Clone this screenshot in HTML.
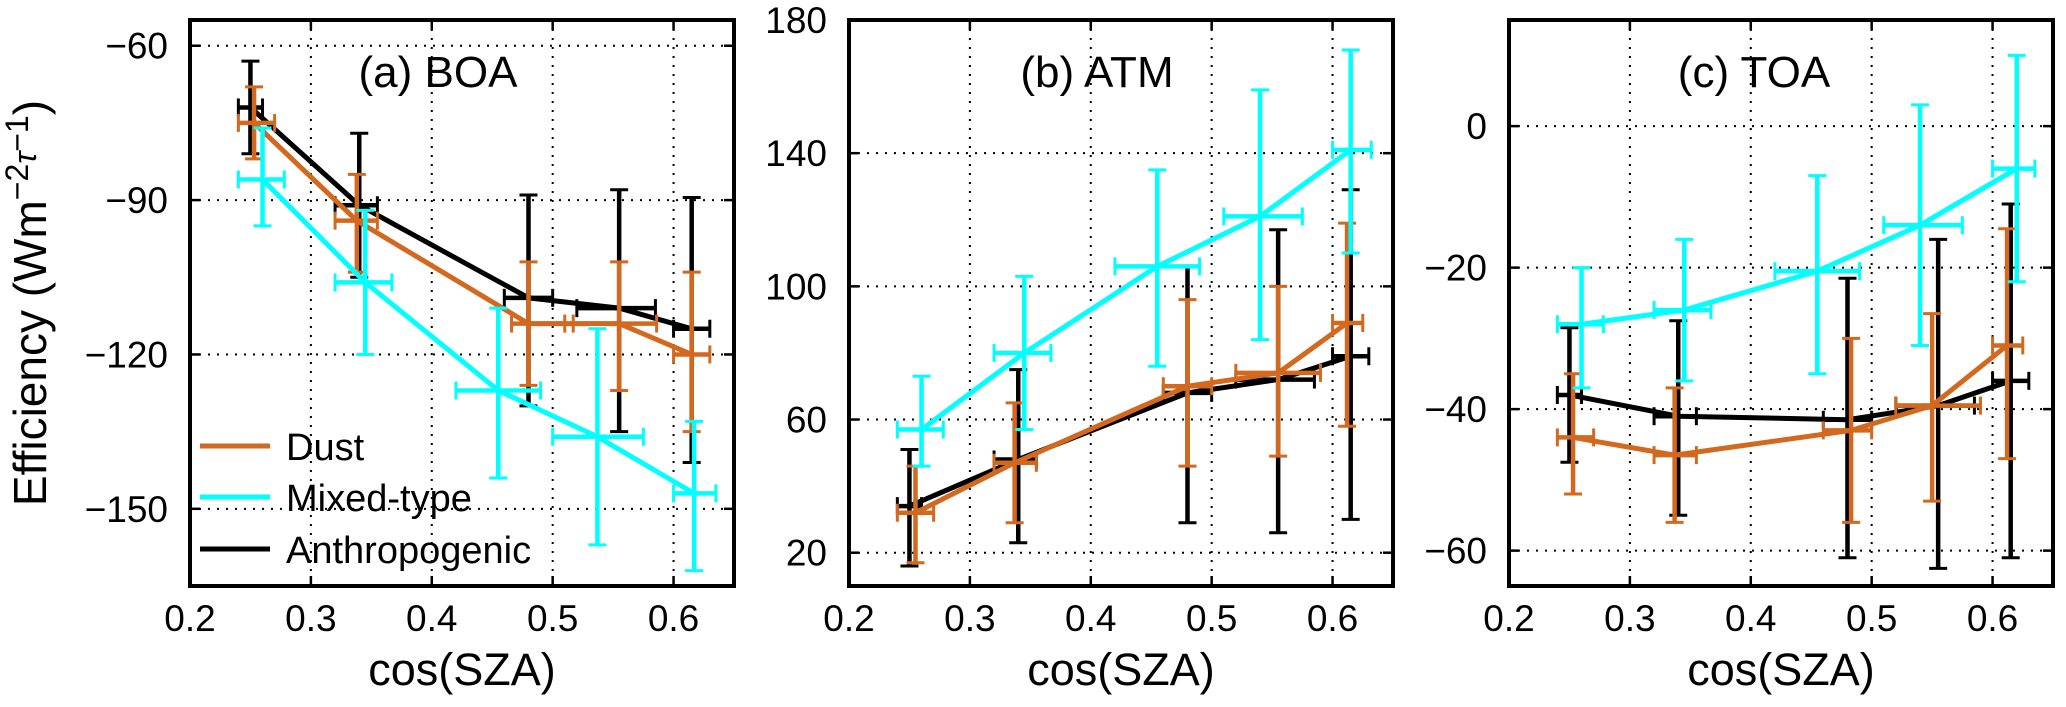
<!DOCTYPE html>
<html><head><meta charset="utf-8"><style>
html,body{margin:0;padding:0;background:#fff;}
svg{display:block;font-family:"Liberation Sans",sans-serif;}
</style></head><body>
<svg id="chart" width="2066" height="707" viewBox="0 0 2066 707" xmlns="http://www.w3.org/2000/svg"></svg>
<script>
// ---- data ----
const seriesNames = ["Dust","Mixed-type","Anthropogenic"];
const seriesColors = ["#d2691e","#00ffff","#000000"];
// Panel A (BOA)
const aDustX=[0.253,0.338,0.48,0.555,0.615], aDustY=[-75,-94,-114,-114,-120];
const aDustLo=[-82,-104,-126,-127,-135], aDustHi=[-68,-85,-102,-102,-104];
const aDustXLo=[0.24,0.32,0.466,0.517,0.6], aDustXHi=[0.27,0.355,0.51,0.586,0.63];
const aMixX=[0.26,0.345,0.455,0.537,0.617], aMixY=[-86,-106,-127,-136,-147];
const aMixLo=[-95,-120,-144,-157,-162], aMixHi=[-76,-92,-111,-115,-133];
const aMixXLo=[0.24,0.32,0.42,0.5,0.6], aMixXHi=[0.278,0.367,0.49,0.575,0.635];
const aAntX=[0.25,0.34,0.48,0.555,0.615], aAntY=[-72,-91,-109,-111,-115];
const aAntLo=[-81,-105,-130,-135,-141], aAntHi=[-63,-77,-89,-88,-89.5];
const aAntXLo=[0.24,0.32,0.46,0.52,0.6], aAntXHi=[0.26,0.355,0.5,0.585,0.63];
// Panel B (ATM)
const bDustX=[0.255,0.337,0.48,0.555,0.612], bDustY=[32,47,70,74,89];
const bDustLo=[17,29,46,49,58], bDustHi=[46,65,96,100,119];
const bDustXLo=[0.24,0.32,0.46,0.52,0.6], bDustXHi=[0.27,0.355,0.5,0.59,0.625];
const bMixX=[0.26,0.345,0.455,0.54,0.615], bMixY=[57,80,106,121,141];
const bMixLo=[46,57,76,84,110], bMixHi=[73,103,135,159,171];
const bMixXLo=[0.24,0.32,0.42,0.51,0.6], bMixXHi=[0.278,0.367,0.49,0.575,0.632];
const bAntX=[0.25,0.34,0.48,0.555,0.615], bAntY=[34,48,68,72,79];
const bAntLo=[16,23,29,26,30], bAntHi=[51,75,106,117,129];
const bAntXLo=[0.24,0.32,0.46,0.52,0.6], bAntXHi=[0.26,0.355,0.5,0.585,0.63];
// Panel C (TOA)
const cDustX=[0.253,0.337,0.483,0.55,0.612], cDustY=[-44,-46.5,-43,-39.5,-31];
const cDustLo=[-52,-56,-56,-53,-47], cDustHi=[-35,-37,-30,-26.5,-14.5];
const cDustXLo=[0.24,0.32,0.46,0.52,0.6], cDustXHi=[0.27,0.355,0.5,0.59,0.625];
const cMixX=[0.26,0.345,0.455,0.54,0.62], cMixY=[-28,-26,-20.5,-14,-6];
const cMixLo=[-37,-36,-35,-31,-22], cMixHi=[-20,-16,-7,3,10];
const cMixXLo=[0.24,0.32,0.42,0.51,0.6], cMixXHi=[0.278,0.367,0.49,0.575,0.635];
const cAntX=[0.25,0.34,0.48,0.555,0.615], cAntY=[-38,-41,-41.5,-39.5,-36];
const cAntLo=[-47.5,-55,-61,-62.5,-61], cAntHi=[-28.5,-27.5,-21.5,-16,-11];
const cAntXLo=[0.24,0.32,0.46,0.52,0.6], cAntXHi=[0.26,0.355,0.5,0.585,0.63];
const xTicks=[0.2,0.3,0.4,0.5,0.6];
const aYTicks=[-60,-90,-120,-150];
const bYTicks=[20,60,100,140,180];
const cYTicks=[-60,-40,-20,0];
const panelTitles=["(a) BOA","(b) ATM","(c) TOA"];

const NS="http://www.w3.org/2000/svg";
const svg=document.getElementById('chart');
function mk(tag,attrs,parent){const e=document.createElementNS(NS,tag);for(const k in attrs)e.setAttribute(k,attrs[k]);(parent||svg).appendChild(e);return e;}

const panels=[
 {left:190,xmin:0.2,xmax:0.65,ymin:-165,ymax:-55,yt:aYTicks,tx:438,
  s:[[aDustX,aDustY,aDustLo,aDustHi,aDustXLo,aDustXHi],[aMixX,aMixY,aMixLo,aMixHi,aMixXLo,aMixXHi],[aAntX,aAntY,aAntLo,aAntHi,aAntXLo,aAntXHi]],name:'boa'},
 {left:849,xmin:0.2,xmax:0.65,ymin:10,ymax:180,yt:bYTicks,tx:1097,
  s:[[bDustX,bDustY,bDustLo,bDustHi,bDustXLo,bDustXHi],[bMixX,bMixY,bMixLo,bMixHi,bMixXLo,bMixXHi],[bAntX,bAntY,bAntLo,bAntHi,bAntXLo,bAntXHi]],name:'atm'},
 {left:1509,xmin:0.2,xmax:0.65,ymin:-65,ymax:15,yt:cYTicks,tx:1754,
  s:[[cDustX,cDustY,cDustLo,cDustHi,cDustXLo,cDustXHi],[cMixX,cMixY,cMixLo,cMixHi,cMixXLo,cMixXHi],[cAntX,cAntY,cAntLo,cAntHi,cAntXLo,cAntXHi]],name:'toa'}
];
const TOP=20,BOT=586,W=544;
const order=[2,0,1];
panels.forEach((p,pi)=>{
  const g=mk('g',{});
  
  
  const X=v=>p.left+(v-p.xmin)/(p.xmax-p.xmin)*W;
  const Y=v=>BOT-(v-p.ymin)/(p.ymax-p.ymin)*(BOT-TOP);
  const R=p.left+W;
  xTicks.forEach(t=>{
    const l=mk('line',{x1:X(t),x2:X(t),y1:TOP,y2:BOT,stroke:'#000','stroke-width':2,'stroke-dasharray':'2,7'},g);
    
    
    mk('line',{x1:X(t),x2:X(t),y1:BOT,y2:BOT-10,stroke:'#000','stroke-width':2.5},g);
    mk('line',{x1:X(t),x2:X(t),y1:TOP,y2:TOP+10,stroke:'#000','stroke-width':2.5},g);
    const tx=mk('text',{x:X(t),y:631,'font-size':37,'text-anchor':'middle'},g);
    tx.textContent=t.toFixed(1);
    
    
  });
  p.yt.forEach(t=>{
    const l=mk('line',{x1:p.left,x2:R,y1:Y(t),y2:Y(t),stroke:'#000','stroke-width':2,'stroke-dasharray':'2,7'},g);
    
    
    mk('line',{x1:p.left,x2:p.left+10,y1:Y(t),y2:Y(t),stroke:'#000','stroke-width':2.5},g);
    mk('line',{x1:R,x2:R-10,y1:Y(t),y2:Y(t),stroke:'#000','stroke-width':2.5},g);
    const tx=mk('text',{x:p.left-22,y:Y(t)+13,'font-size':37,'text-anchor':'end'},g);
    tx.textContent=(t<0?'\u2212'+(-t):''+t);
    
    
  });
  order.forEach(si=>{
    const [xs,ys,lo,hi,xlo,xhi]=p.s[si];const c=seriesColors[si];
    const sg=mk('g',{},g);
    
    
    xs.forEach((x,i)=>{
      mk('line',{x1:X(x),x2:X(x),y1:Y(lo[i]),y2:Y(hi[i]),stroke:c,'stroke-width':4.5},sg);
      mk('line',{x1:X(x)-9,x2:X(x)+9,y1:Y(lo[i]),y2:Y(lo[i]),stroke:c,'stroke-width':3},sg);
      mk('line',{x1:X(x)-9,x2:X(x)+9,y1:Y(hi[i]),y2:Y(hi[i]),stroke:c,'stroke-width':3},sg);
      mk('line',{x1:X(xlo[i]),x2:X(xhi[i]),y1:Y(ys[i]),y2:Y(ys[i]),stroke:c,'stroke-width':4.5},sg);
      mk('line',{x1:X(xlo[i]),x2:X(xlo[i]),y1:Y(ys[i])-9,y2:Y(ys[i])+9,stroke:c,'stroke-width':3},sg);
      mk('line',{x1:X(xhi[i]),x2:X(xhi[i]),y1:Y(ys[i])-9,y2:Y(ys[i])+9,stroke:c,'stroke-width':3},sg);
    });
    const pl=mk('polyline',{points:xs.map((x,i)=>X(x)+','+Y(ys[i])).join(' '),fill:'none',stroke:c,'stroke-width':5,'stroke-linejoin':'round'},sg);
    
    
  });
  const frame=mk('rect',{x:p.left,y:TOP,width:W,height:BOT-TOP,fill:'none',stroke:'#000','stroke-width':4},g);
  
  
  const title=mk('text',{x:p.tx,y:87,'font-size':44,'text-anchor':'middle'},g);
  title.textContent=panelTitles[pi];
  
  
  const xl=mk('text',{x:p.left+W/2,y:685,'font-size':45,'text-anchor':'middle'},g);
  xl.textContent='cos(SZA)';
  
  
});
const lg=mk('g',{});


[446,497,549].forEach((y,i)=>{
  const e=mk('g',{},lg);
  
  
  mk('line',{x1:200,x2:270,y1:y,y2:y,stroke:seriesColors[i],'stroke-width':5},e);
  const t=mk('text',{x:286,y:y+14,'font-size':38},e);
  t.textContent=seriesNames[i];
});
const yl=mk('text',{transform:'translate(46,303) rotate(-90)','font-size':46,'text-anchor':'middle'});


yl.innerHTML='Efficiency (Wm<tspan dy="-18" font-size="32">\u22122</tspan><tspan dy="8" font-size="32" font-style="italic">\u03c4</tspan><tspan dy="-8" font-size="32">\u22121</tspan><tspan dy="18">)</tspan>';
</script>
</body></html>
